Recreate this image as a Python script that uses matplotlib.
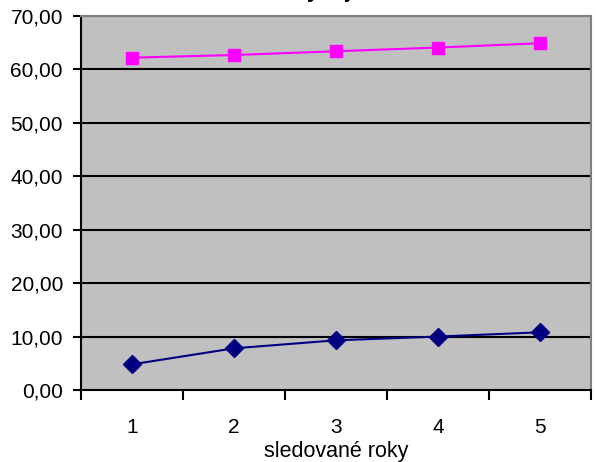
import matplotlib
matplotlib.use("Agg")
import matplotlib.pyplot as plt
from matplotlib.ticker import FuncFormatter

plt.rcParams['font.family'] = ['Liberation Sans', 'DejaVu Sans']

years = [1, 2, 3, 4, 5]
series_upper = [62.2, 62.7, 63.4, 64.1, 64.9]
series_lower = [4.8, 7.8, 9.3, 10.0, 10.8]
y_ticks = [0, 10, 20, 30, 40, 50, 60, 70]
title_text = "Vývoj ukazatelů"
x_label = "sledované roky"

fig = plt.figure(figsize=(5.96, 4.62), dpi=100)
ax = fig.add_axes([81 / 596, 1 - 390 / 462, 510 / 596, 374 / 462])
ax.set_facecolor('#C0C0C0')

for v in y_ticks[1:]:
    ax.axhline(v, color='black', lw=1.5, zorder=1)

ax.plot(years, series_upper, color='#FF00FF', lw=1.5, marker='s', ms=9,
        markerfacecolor='#FF00FF', markeredgecolor='#FF00FF', zorder=3, clip_on=False)
ax.plot(years, series_lower, color='#000080', lw=1.5, marker='D', ms=9.5,
        markerfacecolor='#000080', markeredgecolor='#000080', zorder=3, clip_on=False)

ax.set_xlim(0.5, 5.5)
ax.set_ylim(0, 70)
ax.set_yticks(y_ticks)
ax.yaxis.set_major_formatter(FuncFormatter(lambda v, p: f"{v:.2f}".replace('.', ',')))

ax.set_xticks(years)
ax.set_xticklabels([str(y) for y in years])
ax.set_xticks([y + 0.5 for y in [0] + years], minor=True)
ax.tick_params(axis='x', which='major', length=0, pad=20, labelsize=15)
ax.tick_params(axis='x', which='minor', length=7, width=1.5, color='black')
ax.tick_params(axis='y', length=6, width=1.5, labelsize=15, pad=7)

ax.spines['left'].set_color('black')
ax.spines['left'].set_linewidth(1.5)
ax.spines['bottom'].set_color('black')
ax.spines['bottom'].set_linewidth(1.5)
ax.spines['top'].set_color('#808080')
ax.spines['top'].set_linewidth(1.5)
ax.spines['right'].set_color('#808080')
ax.spines['right'].set_linewidth(1.5)

ax.set_xlabel(x_label, fontsize=15.5, labelpad=3)

fig.text(375 / 596, 1 + 3 / 462, title_text, ha='center', va='baseline',
         fontsize=16, fontweight='bold')

fig.savefig('out.png', dpi=100)
